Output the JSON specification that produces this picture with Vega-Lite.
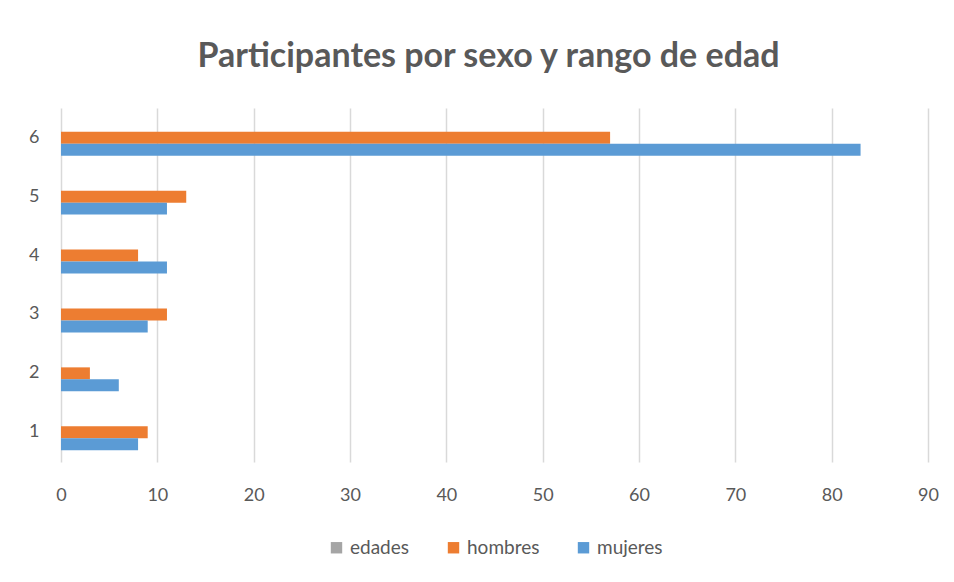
{
  "$schema": "https://vega.github.io/schema/vega-lite/v6.json",
  "autosize": "none",
  "width": 867,
  "height": 354,
  "padding": {"left": 61, "top": 108, "right": 26, "bottom": 120},
  "background": "white",
  "title": {
    "text": "Participantes por sexo y rango de edad",
    "font": "Lato",
    "fontSize": 34,
    "fontWeight": "bold",
    "color": "#595959",
    "anchor": "middle",
    "dx": -6,
    "offset": 34
  },
  "data": {
    "values": [
      {"edad": "1", "serie": "hombres", "valor": 9},
      {"edad": "1", "serie": "mujeres", "valor": 8},
      {"edad": "2", "serie": "hombres", "valor": 3},
      {"edad": "2", "serie": "mujeres", "valor": 6},
      {"edad": "3", "serie": "hombres", "valor": 11},
      {"edad": "3", "serie": "mujeres", "valor": 9},
      {"edad": "4", "serie": "hombres", "valor": 8},
      {"edad": "4", "serie": "mujeres", "valor": 11},
      {"edad": "5", "serie": "hombres", "valor": 13},
      {"edad": "5", "serie": "mujeres", "valor": 11},
      {"edad": "6", "serie": "hombres", "valor": 57},
      {"edad": "6", "serie": "mujeres", "valor": 83}
    ]
  },
  "mark": {"type": "bar"},
  "encoding": {
    "y": {
      "field": "edad",
      "type": "ordinal",
      "sort": "descending",
      "scale": {"paddingInner": 0.39, "paddingOuter": 0.2},
      "axis": {
        "title": null,
        "domain": false,
        "ticks": false,
        "labelPadding": 22,
        "labelFont": "Lato",
        "labelFontSize": 18,
        "labelColor": "#595959",
        "grid": false
      }
    },
    "yOffset": {
      "field": "serie",
      "type": "nominal",
      "scale": {"domain": ["edades", "hombres", "mujeres"], "paddingInner": 0, "paddingOuter": 0}
    },
    "x": {
      "field": "valor",
      "type": "quantitative",
      "scale": {"domain": [0, 90], "nice": false},
      "axis": {
        "title": null,
        "domain": false,
        "ticks": false,
        "values": [0, 10, 20, 30, 40, 50, 60, 70, 80, 90],
        "labelFlush": false,
        "labelPadding": 24,
        "labelFont": "Lato",
        "labelFontSize": 18,
        "labelColor": "#595959",
        "grid": true,
        "gridColor": "#D9D9D9",
        "gridWidth": 1.5
      }
    },
    "color": {
      "field": "serie",
      "type": "nominal",
      "scale": {"domain": ["edades", "hombres", "mujeres"], "range": ["#A5A5A5", "#ED7D31", "#5B9BD5"]},
      "legend": {
        "title": null,
        "orient": "bottom",
        "direction": "horizontal",
        "symbolType": "square",
        "symbolSize": 130,
        "symbolStrokeWidth": 0,
        "labelFont": "Lato",
        "labelFontSize": 19,
        "labelColor": "#595959",
        "columnPadding": 34,
        "offset": 34
      }
    }
  },
  "config": {
    "view": {"stroke": null},
    "legend": {"layout": {"bottom": {"anchor": "middle"}}}
  }
}
